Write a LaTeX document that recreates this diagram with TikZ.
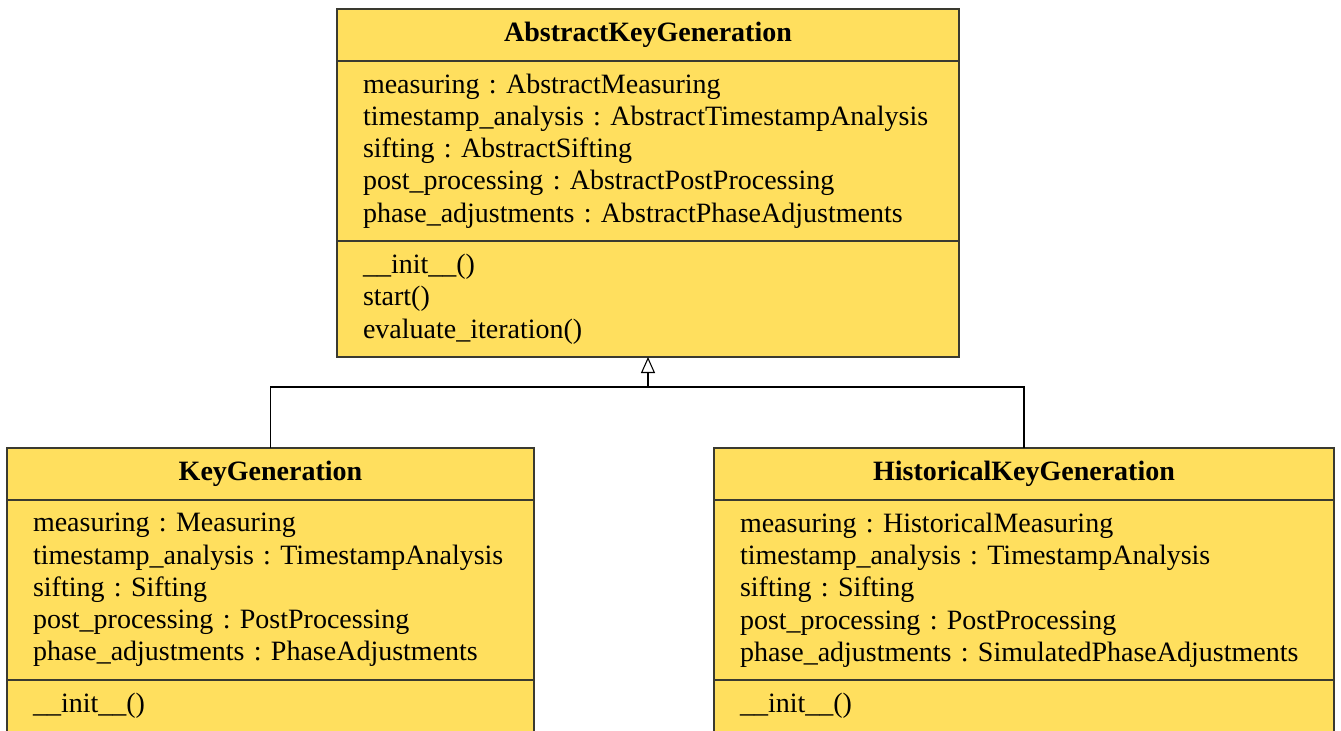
\documentclass[tikz,border=0pt]{standalone}
\usepackage{fontspec}
\setmainfont{Liberation Serif}
\usepackage{tikz}
\usetikzlibrary{arrows.meta,positioning}
\definecolor{classyellow}{HTML}{FFDF5E}
\definecolor{classline}{HTML}{3A3A30}

\begin{document}
\frenchspacing
\begin{tikzpicture}[x=0.75pt,y=-0.75pt,>={Triangle[open,length=12pt,width=10.5pt]}]
    \tikzstyle{classhead} = [draw=classline, fill=classyellow, line width=0.9pt, outer sep=0, inner sep=0, font=\fontsize{21}{24.2}\selectfont\bfseries, minimum height=39pt]
    \tikzstyle{classbody} = [draw=classline, fill=classyellow, line width=0.9pt, outer sep=0, inner xsep=19.5pt, inner ysep=0, align=left, font=\fontsize{21}{24.2}\selectfont]
    \tikzstyle{inherit} = [->, black, line width=0.8pt]
    \useasboundingbox (0,0) rectangle (1341,731);

    % parent class
    \node[classhead, minimum width=466.5pt, anchor=north] (akgt) at (648,9) {AbstractKeyGeneration};
    \node[classbody, text width=427.5pt, minimum height=135pt, below=0pt of akgt] (akga) {measuring : AbstractMeasuring\\timestamp\_analysis : AbstractTimestampAnalysis\\sifting : AbstractSifting\\post\_processing : AbstractPostProcessing\\phase\_adjustments : AbstractPhaseAdjustments};
    \node[classbody, text width=427.5pt, minimum height=87pt, below=0pt of akga] (akgm) {\_\_init\_\_()\\start()\\evaluate\_iteration()};

    % subclasses
    \node[classhead, minimum width=395.25pt, anchor=north] (kgt) at (270.5,448) {KeyGeneration};
    \node[classbody, text width=356.25pt, minimum height=135pt, below=0pt of kgt] (kga) {measuring : Measuring\\timestamp\_analysis : TimestampAnalysis\\sifting : Sifting\\post\_processing : PostProcessing\\phase\_adjustments : PhaseAdjustments};
    \node[classbody, text width=356.25pt, minimum height=39pt, below=0pt of kga] (kgm) {\_\_init\_\_()};

    \node[classhead, minimum width=465pt, anchor=north] (hkgt) at (1024,448) {HistoricalKeyGeneration};
    \node[classbody, text width=426pt, minimum height=135pt, below=0pt of hkgt] (hkga) {measuring : HistoricalMeasuring\\timestamp\_analysis : TimestampAnalysis\\sifting : Sifting\\post\_processing : PostProcessing\\phase\_adjustments : SimulatedPhaseAdjustments};
    \node[classbody, text width=426pt, minimum height=39pt, below=0pt of hkga] (hkgm) {\_\_init\_\_()};

    % generalisation
    \coordinate (fork) at (648,387);
    \draw[inherit] (fork) -- (akgm.south);
    \draw[black, line width=0.8pt] (kgt.north) |- (fork);
    \draw[black, line width=0.8pt] (hkgt.north) |- (fork);
\end{tikzpicture}
\end{document}
